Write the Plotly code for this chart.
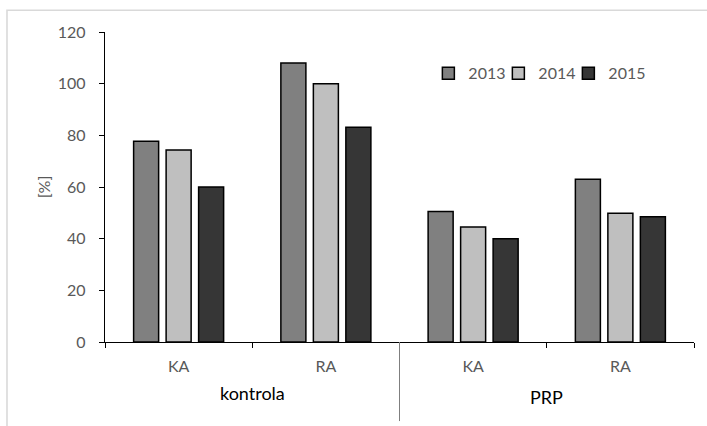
import plotly.graph_objects as go

# Groups and treatments along the x axis
groups = ["kontrola", "kontrola", "PRP", "PRP"]
treatments = ["KA", "RA", "KA", "RA"]
group_names = ["kontrola", "PRP"]

years = ["2013", "2014", "2015"]
values_2013 = [77.7, 108.0, 50.5, 63.0]
values_2014 = [74.3, 100.0, 44.5, 49.8]
values_2015 = [60.0, 83.1, 40.0, 48.5]

y_ticks = [0, 20, 40, 60, 80, 100, 120]

series = [values_2013, values_2014, values_2015]
colors = ["#808080", "#BFBFBF", "#363636"]

FONT = "Lato"
GREY = "#595959"

positions = list(range(len(treatments)))
legend_ids = ["legend", "legend2", "legend3"]

fig = go.Figure()
for name, vals, col, lg in zip(years, series, colors, legend_ids):
    fig.add_trace(go.Bar(
        x=positions, y=vals, name=name, legend=lg,
        marker=dict(color=col, line=dict(color="#000000", width=1.5)),
    ))

# One legend box per year, laid out in a row
legend_step = 70 / 589
legend_layout = {}
for i, lg in enumerate(legend_ids):
    legend_layout[lg] = dict(
        orientation="h", x=0.549 + i * legend_step, xanchor="left",
        y=0.867, yanchor="middle",
        font=dict(family=FONT, size=16, color=GREY),
        itemwidth=30, bgcolor="rgba(0,0,0,0)",
    )

fig.update_layout(
    width=707, height=426,
    margin=dict(l=105, r=13, t=32, b=84, autoexpand=False),
    paper_bgcolor="white", plot_bgcolor="white",
    barmode="group", bargap=0.338, bargroupgap=0.23,
    font=dict(family=FONT, size=16, color=GREY),
    showlegend=True,
    **legend_layout,
)

fig.update_xaxes(
    range=[-0.5, len(treatments) - 0.5],
    tickmode="array", tickvals=positions, ticktext=treatments,
    ticks="", ticklabelstandoff=10,
    tickfont=dict(family=FONT, size=16, color=GREY),
    showline=True, linecolor="#000000", linewidth=1.3,
    showgrid=False, zeroline=False,
    minor=dict(
        tickmode="array",
        tickvals=[p - 0.5 for p in positions] + [positions[-1] + 0.5],
        ticks="outside", ticklen=5, tickcolor="#000000", tickwidth=1.3,
        showgrid=False,
    ),
)

fig.update_yaxes(
    range=[0, 120], tickmode="array", tickvals=y_ticks,
    ticks="outside", ticklen=5, tickcolor="#000000", tickwidth=1.3,
    ticklabelstandoff=10,
    tickfont=dict(family=FONT, size=16, color=GREY),
    showline=True, linecolor="#000000", linewidth=1.3,
    showgrid=False, zeroline=False,
    title=dict(text="[%]", font=dict(family=FONT, size=16, color=GREY), standoff=3),
)

# Group labels below the treatment labels
label_y = {"kontrola": -0.165, "PRP": -0.178}
for g in group_names:
    members = [p for p, gg in zip(positions, groups) if gg == g]
    center = sum(members) / len(members)
    fig.add_annotation(
        x=center, xref="x", y=label_y[g], yref="paper",
        text=g, showarrow=False,
        font=dict(family=FONT, size=18, color="#000000"),
        xanchor="center", yanchor="middle",
    )

# Divider between the two groups
split = [p for p, gg in zip(positions, groups) if gg == group_names[0]][-1] + 0.5
fig.add_shape(
    type="line", xref="x", yref="paper",
    x0=split, x1=split, y0=0, y1=-0.255,
    line=dict(color="#7F7F7F", width=1),
)

# Chart frame
fig.add_shape(
    type="rect", xref="paper", yref="paper",
    x0=-0.1664, x1=1.03, y0=1.07, y1=-0.6,
    line=dict(color="#D9D9D9", width=1.6), layer="below",
)

fig.write_html("out.html")
